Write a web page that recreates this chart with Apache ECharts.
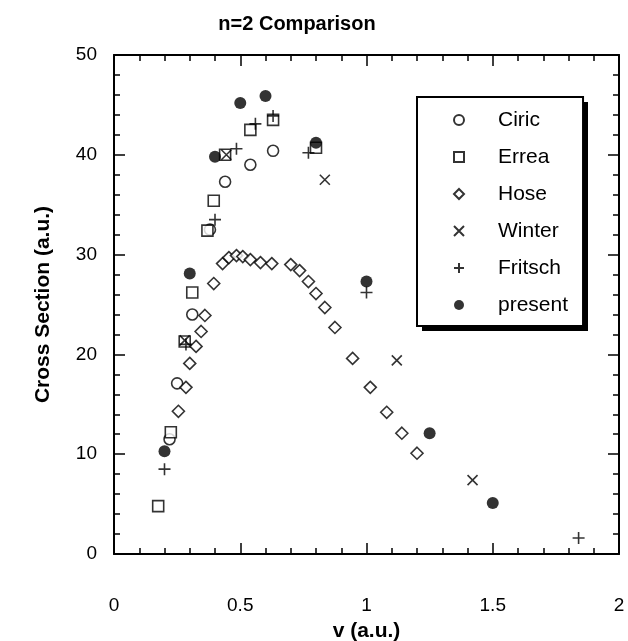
<!DOCTYPE html>
<html>
<head>
<meta charset="utf-8">
<title>n=2 Comparison</title>
<script src="https://cdn.jsdelivr.net/npm/echarts@6/dist/echarts.min.js"></script>
<style>
  html, body { margin: 0; padding: 0; background: #fff; }
  #chart { width: 628px; height: 641px; }
</style>
</head>
<body>
<div id="chart"></div>
<script>
const seriesNames = ['Ciric', 'Errea', 'Hose', 'Winter', 'Fritsch', 'present']

const ciric = [[0.22, 11.5], [0.25, 17.1], [0.31, 24.0], [0.38, 32.5], [0.44, 37.3], [0.54, 39.0], [0.63, 40.4]]
const errea = [[0.175, 4.8], [0.225, 12.2], [0.28, 21.3], [0.31, 26.2], [0.37, 32.4], [0.395, 35.4], [0.44, 40.0], [0.54, 42.5], [0.63, 43.5], [0.8, 40.7]]
const hose = [[0.255, 14.3], [0.285, 16.7], [0.30, 19.1], [0.325, 20.8], [0.345, 22.3], [0.36, 23.9], [0.395, 27.1], [0.43, 29.1], [0.455, 29.7], [0.485, 29.9], [0.51, 29.8], [0.54, 29.5], [0.58, 29.2], [0.625, 29.1], [0.70, 29.0], [0.735, 28.4], [0.77, 27.3], [0.80, 26.1], [0.835, 24.7], [0.875, 22.7], [0.945, 19.6], [1.015, 16.7], [1.08, 14.2], [1.14, 12.1], [1.20, 10.1]]
const winter = [[0.28, 21.4], [0.445, 40.0], [0.835, 37.5], [1.12, 19.4], [1.42, 7.4]]
const fritsch = [[0.2, 8.5], [0.285, 21.0], [0.4, 33.5], [0.485, 40.6], [0.56, 43.1], [0.63, 43.9], [0.77, 40.2], [1.0, 26.2], [1.84, 1.6]]
const present = [[0.2, 10.3], [0.3, 28.1], [0.4, 39.8], [0.5, 45.2], [0.6, 45.9], [0.8, 41.2], [1.0, 27.3], [1.25, 12.1], [1.5, 5.1]]

const xTicks = [0, 0.5, 1, 1.5, 2]
const yTicks = [0, 10, 20, 30, 40, 50]

const font = '"Liberation Sans", Arial, Helvetica, sans-serif'
const crossPath = 'path://M0,0L10,10M10,0L0,10'
const plusPath = 'path://M5,0L5,10M0,5L10,5'

const chart = echarts.init(document.getElementById('chart'))

function frameAxis(pos, ticks, showLabels) {
  const isX = pos === 'bottom' || pos === 'top'
  return {
    type: 'value',
    position: pos,
    min: ticks[0],
    max: ticks[ticks.length - 1],
    interval: ticks[1] - ticks[0],
    axisLine: { show: true, onZero: false, lineStyle: { color: '#000', width: 2 } },
    axisTick: { show: true, inside: true, length: 11, lineStyle: { color: '#000', width: 1.5 } },
    minorTick: { show: true, splitNumber: 5, length: 6, lineStyle: { color: '#000', width: 1.5 } },
    splitLine: { show: false },
    axisLabel: {
      show: showLabels,
      color: '#000',
      fontFamily: font,
      fontSize: 19,
      margin: isX ? 42 : 17
    }
  }
}

const baseStyle = { color: '#fff', borderColor: '#000', borderWidth: 1.6 }
const lineStyleOnly = { color: 'transparent', borderColor: '#000', borderWidth: 1.6 }

const option = {
  backgroundColor: '#fff',
  animation: false,
  title: {
    text: 'n=2 Comparison',
    left: 292,
    top: 9,
    textAlign: 'center',
    textStyle: { fontFamily: font, fontSize: 20, fontWeight: 'bold', color: '#000' }
  },
  // drop shadow behind the legend box
  graphic: [{
    type: 'rect',
    left: 422,
    top: 102,
    z: 0,
    shape: { width: 166, height: 229 },
    style: { fill: '#000' }
  }],
  legend: {
    data: seriesNames,
    orient: 'vertical',
    left: 417,
    top: 97,
    padding: [11, 15, 9, 36],
    itemWidth: 10,
    itemHeight: 10,
    itemGap: 13,
    z: 5,
    backgroundColor: '#fff',
    borderColor: '#000',
    borderWidth: 2,
    borderRadius: 0,
    textStyle: { fontFamily: font, fontSize: 21, color: '#000', lineHeight: 24, padding: [0, 0, 0, 29] }
  },
  grid: { left: 114, right: 9, top: 55, bottom: 87, containLabel: false, outerBoundsMode: 'none' },
  xAxis: [
    Object.assign(frameAxis('bottom', xTicks, true), {
      name: 'v (a.u.)',
      nameLocation: 'middle',
      nameGap: 67,
      nameTextStyle: { fontFamily: font, fontSize: 21, fontWeight: 'bold', color: '#000' }
    }),
    frameAxis('top', xTicks, false)
  ],
  yAxis: [
    Object.assign(frameAxis('left', yTicks, true), {
      name: 'Cross Section (a.u.)',
      nameLocation: 'middle',
      nameGap: 60,
      nameTextStyle: { fontFamily: font, fontSize: 21, fontWeight: 'bold', color: '#000' }
    }),
    frameAxis('right', yTicks, false)
  ],
  series: [
    { name: 'Ciric', type: 'scatter', data: ciric, symbol: 'circle', symbolSize: 11, itemStyle: baseStyle },
    { name: 'Errea', type: 'scatter', data: errea, symbol: 'rect', symbolSize: 11, itemStyle: baseStyle },
    { name: 'Hose', type: 'scatter', data: hose, symbol: 'diamond', symbolSize: 12, itemStyle: baseStyle },
    { name: 'Winter', type: 'scatter', data: winter, symbol: crossPath, symbolSize: 10, itemStyle: lineStyleOnly },
    { name: 'Fritsch', type: 'scatter', data: fritsch, symbol: plusPath, symbolSize: 12, itemStyle: lineStyleOnly },
    { name: 'present', type: 'scatter', data: present, symbol: 'circle', symbolSize: 12, itemStyle: { color: '#000' } }
  ]
}

chart.setOption(option)
</script>
</body>
</html>
